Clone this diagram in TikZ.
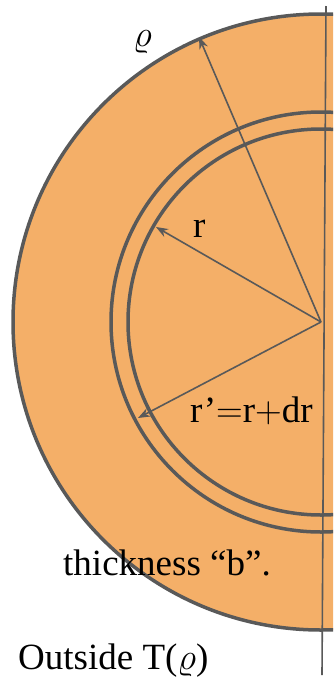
\RequirePackage{fix-cm}
\documentclass[tikz,border=0pt]{standalone}
\usepackage{fontspec}
\setmainfont{Liberation Serif}
\usetikzlibrary{arrows.meta}
\definecolor{fillorange}{RGB}{244,175,104}
\definecolor{linegray}{RGB}{89,89,89}
\begin{document}
\begin{tikzpicture}[x=1pt, y=-1pt,
    ring_style/.style={draw=linegray, line width=3.5pt},
    arrow_style/.style={draw=linegray, line width=1.6pt, -{Stealth[length=12pt, width=9pt]}},
    label_style/.style={font=\fontsize{37}{44}\selectfont, inner sep=0pt, anchor=base west}
]
\useasboundingbox (0,0) rectangle (333,678);
\clip (0,0) rectangle (333,678);
% Disque et anneau
\coordinate (O) at (321, 322);
\fill[fillorange] (O) circle (308pt);
\draw[ring_style] (O) circle (308pt);
\draw[ring_style] (O) circle (210pt);
\draw[ring_style] (O) circle (193pt);
% Axe vertical
\coordinate (axis_top) at (326, 6);
\coordinate (axis_bot) at (322, 675);
\draw[linegray, line width=1.6pt] (axis_top) -- (axis_bot);
% Rayons
\coordinate (rho_end) at (199, 37);
\coordinate (r_end) at (156, 227);
\coordinate (rp_end) at (138, 418);
\draw[arrow_style] (O) -- (rho_end);
\draw[arrow_style] (O) -- (r_end);
\draw[arrow_style] (O) -- (rp_end);
% Textes
\node[label_style] (rho_lbl) at (133, 46) {$\varrho$};
\node[label_style] (r_lbl) at (193, 237) {r};
\node[label_style] (rp_lbl) at (190, 422) {r’$=$r$+$dr};
\node[label_style] (thick_lbl) at (63, 575) {thickness “b”.};
\node[label_style] (out_lbl) at (18, 669) {Outside T($\varrho$)};
\end{tikzpicture}
\end{document}
